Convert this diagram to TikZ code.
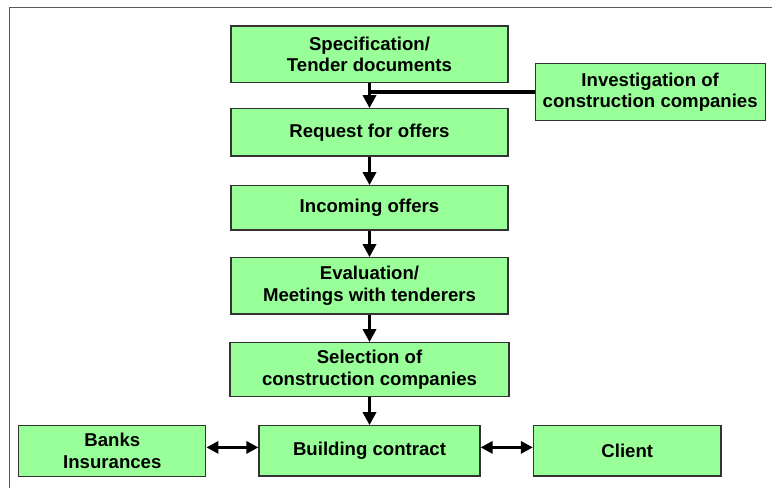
\documentclass[tikz,border=0pt]{standalone}
\usepackage{fontspec}
\setmainfont{Liberation Sans}
\usepackage{xcolor}
\usetikzlibrary{arrows.meta, positioning, calc}
\definecolor{boxgreen}{RGB}{153, 255, 153}
\definecolor{framegray}{RGB}{90, 90, 90}
\tikzstyle{stage} = [rectangle, minimum width=277pt, minimum height=50pt, inner sep=0pt, text centered, align=center, draw=black!80, line width=1.2pt, fill=boxgreen, font=\bfseries\fontsize{18.6}{21.5}\selectfont]
\tikzstyle{arrow} = [line width=3.2pt, -{Triangle[width=13pt,length=13pt]}]
\tikzstyle{link} = [line width=3.2pt]
\tikzstyle{twoway} = [line width=3.2pt, {Triangle[width=12pt,length=12pt]}-{Triangle[width=12pt,length=12pt]}]

\begin{document}
\begin{tikzpicture}[x=1pt, y=1pt]
\useasboundingbox (0,0) rectangle (772,488);

% Frame
\draw [framegray, line width=1.5pt] (9.3,0) |- (772,480.5);

% Tendering steps from top to bottom
\node (spec) [stage, minimum height=56.7pt] at (369.5,433.6) {Specification/\\Tender documents};
\node (request) [stage, minimum height=47.3pt, below=24.8pt of spec] {Request for offers};
\node (incoming) [stage, minimum height=44.3pt, below=28.5pt of request] {Incoming offers};
\node (evaluation) [stage, minimum height=56.3pt, below=26.5pt of incoming] {Evaluation/\\Meetings with tenderers};
\node (selection) [stage, minimum width=279pt, minimum height=54pt, below=27.5pt of evaluation] {Selection of\\construction companies};
\node (contract) [stage, minimum width=221pt, minimum height=50.3pt, below=27.8pt of selection] {Building contract};

% Side boxes
\node (investigation) [stage, minimum width=230pt, minimum height=57.3pt, right=26pt of spec.south east, yshift=-8.6pt] {Investigation of\\construction companies};
\node (banks) [stage, minimum width=187pt, minimum height=51pt, left=52pt of contract] {Banks\\Insurances};
\node (client) [stage, minimum width=187.5pt, minimum height=50.3pt, right=52.3pt of contract] {Client};

% Arrows
\draw [arrow] (spec) -- (request);
\draw [link] (investigation.west) -- (investigation.west -| request.north);
\draw [arrow] (request) -- (incoming);
\draw [arrow] (incoming) -- (evaluation);
\draw [arrow] (evaluation) -- (selection);
\draw [arrow] (selection) -- (contract);

% Two-way arrows
\draw [twoway] ([yshift=3.5pt]banks.east) -- ([yshift=3.5pt]contract.west);
\draw [twoway] ([yshift=3.5pt]contract.east) -- ([yshift=3.5pt]client.west);

\end{tikzpicture}
\end{document}
